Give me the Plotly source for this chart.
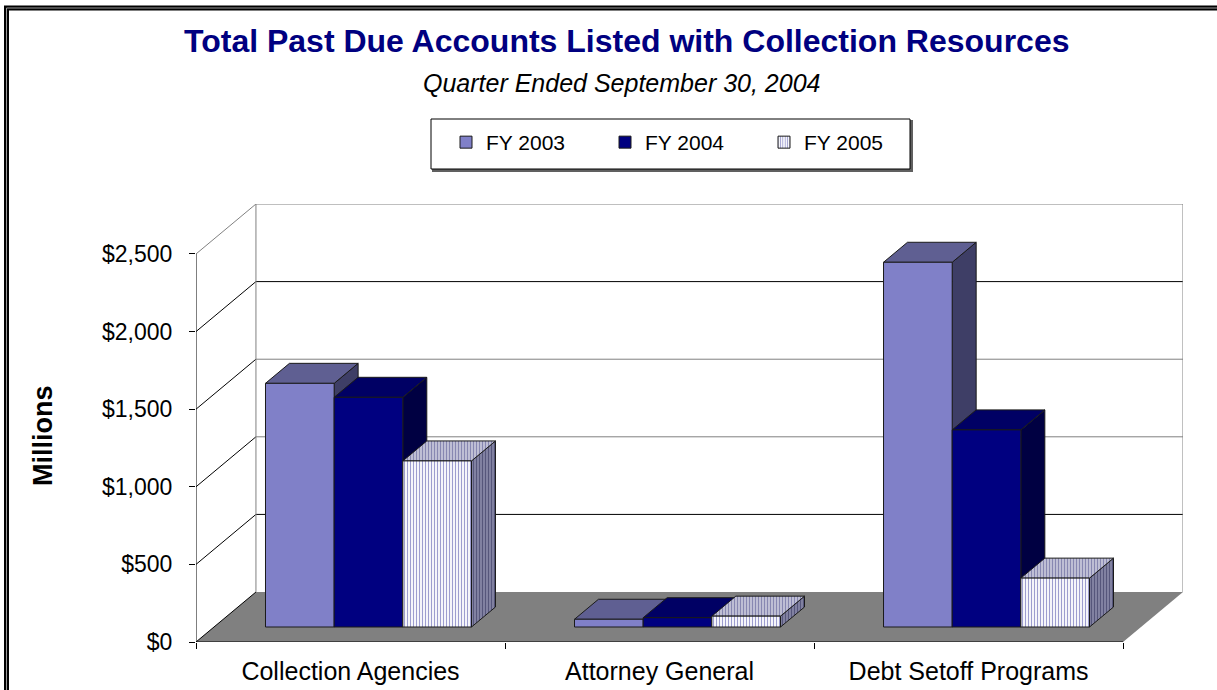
import plotly.graph_objects as go

# ---------------- data ----------------
categories = ["Collection Agencies", "Attorney General", "Debt Setoff Programs"]
series_names = ["FY 2003", "FY 2004", "FY 2005"]
fy2003 = [1570, 50, 2350]
fy2004 = [1480, 60, 1270]
fy2005 = [1070, 70, 315]
y_tickvals = [0, 500, 1000, 1500, 2000, 2500]
y_ticktext = ["$0", "$500", "$1,000", "$1,500", "$2,000", "$2,500"]

series_values = [fy2003, fy2004, fy2005]

# ---------------- geometry / style ----------------
DX, DY = 0.194, 322.0          # floor depth offset (x in category units, y in value units)
BAR_W = 1 / 4.5                # gap width 150%
D0, DB = 0.3, 0.4              # bar start depth and bar depth (fraction of floor depth)
FONT = "Liberation Sans, Arial, sans-serif"
EDGE = "#1a1a1a"

face_styles = {
    "FY 2003": dict(
        front=dict(fillcolor="#8080c8"),
        top=dict(fillcolor="#5f5f92"),
        side=dict(fillcolor="#3e3e66"),
    ),
    "FY 2004": dict(
        front=dict(fillcolor="#000080"),
        top=dict(fillcolor="#000064"),
        side=dict(fillcolor="#000042"),
    ),
    "FY 2005": dict(
        front=dict(fillcolor="#ffffff",
                   fillpattern=dict(shape="|", fgcolor="#3c3ca0", bgcolor="#ffffff", size=3, solidity=0.4)),
        top=dict(fillcolor="#c4c4d8",
                 fillpattern=dict(shape="|", fgcolor="#4a4a8a", bgcolor="#c4c4d8", size=3, solidity=0.4)),
        side=dict(fillcolor="#8a8aa8",
                  fillpattern=dict(shape="|", fgcolor="#22224e", bgcolor="#8a8aa8", size=3, solidity=0.45)),
    ),
}
legend_markers = {
    "FY 2003": dict(color="#8080c8", line=dict(color=EDGE, width=1)),
    "FY 2004": dict(color="#000080", line=dict(color=EDGE, width=1)),
    "FY 2005": dict(color="#ffffff", line=dict(color=EDGE, width=1),
                    pattern=dict(shape="|", fgcolor="#3c3ca0", bgcolor="#ffffff", size=3, solidity=0.4)),
}
back_grid_colors = {500: "black", 1000: "#808080", 1500: "#808080", 2000: "black", 2500: "#808080"}
side_grid_colors = {0: "black", 500: "black", 1000: "black", 1500: "black", 2000: "black", 2500: "#808080"}

fig = go.Figure()

# legend entries
for name in series_names:
    fig.add_trace(go.Bar(x=[None], y=[None], name=name, marker=legend_markers[name],
                         showlegend=True, hoverinfo="skip"))


def line(xs, ys, color, width=1):
    fig.add_trace(go.Scatter(x=xs, y=ys, mode="lines", line=dict(color=color, width=width),
                             hoverinfo="skip", showlegend=False))


ncat = len(categories)
ymax = y_tickvals[-1]

# floor
fig.add_trace(go.Scatter(x=[0, ncat, ncat + DX, DX, 0], y=[0, 0, DY, DY, 0], mode="lines",
                         fill="toself", fillcolor="#808080", line=dict(width=0),
                         hoverinfo="skip", showlegend=False))
line([0, ncat], [0, 0], "black")

# back wall gridlines and side wall diagonals
for v in y_tickvals:
    if v > 0:
        line([DX, ncat + DX], [v + DY, v + DY], back_grid_colors[v])
    line([0, DX], [v, v + DY], side_grid_colors[v])
line([DX, DX], [DY, ymax + DY], "#808080")
line([ncat + DX, ncat + DX], [DY, ymax + DY], "#808080")
line([0, 0], [0, ymax], "black")

# 3D bars
base = D0 * DY
dx, dy = DB * DX, DB * DY
for i in range(ncat):
    for j, name in enumerate(series_names):
        v = series_values[j][i]
        xl = i + 0.5 + D0 * DX - 1.5 * BAR_W + j * BAR_W
        xr = xl + BAR_W
        st = face_styles[name]
        faces = [
            ("side", [xr, xr + dx, xr + dx, xr, xr], [base, base + dy, base + v + dy, base + v, base]),
            ("top", [xl, xr, xr + dx, xl + dx, xl], [base + v, base + v, base + v + dy, base + v + dy, base + v]),
            ("front", [xl, xr, xr, xl, xl], [base, base, base + v, base + v, base]),
        ]
        for fname, xs, ys in faces:
            fig.add_trace(go.Scatter(x=xs, y=ys, mode="lines", fill="toself",
                                     line=dict(color=EDGE, width=1),
                                     hoverinfo="skip", showlegend=False, **st[fname]))

L, R, T, B = 196, 34, 204, 48
W, H = 1217, 690
PW, PH = W - L - R, H - T - B


def px(xp):
    return (xp - L) / PW


def py(yp):
    return (H - B - yp) / PH


# frame (double line)
fig.add_shape(type="rect", xref="paper", yref="paper", x0=px(6.5), y0=py(8), x1=px(1260), y1=py(760),
              line=dict(color="black", width=5), layer="above")
fig.add_shape(type="rect", xref="paper", yref="paper", x0=px(6.5), y0=py(8), x1=px(1260), y1=py(760),
              line=dict(color="#9a9a9a", width=1), layer="above")

# legend box with a slight shadow
fig.add_shape(type="rect", xref="paper", yref="paper", x0=px(433), y0=py(171), x1=px(912), y1=py(121),
              line=dict(color="#606060", width=2), fillcolor="#606060", layer="below")
fig.add_shape(type="rect", xref="paper", yref="paper", x0=px(431), y0=py(169), x1=px(910), y1=py(119),
              line=dict(color="black", width=1), fillcolor="white", layer="below")

fig.add_annotation(text="<b>Total Past Due Accounts Listed with Collection Resources</b>",
                   xref="paper", yref="paper", x=px(626), y=py(41), xanchor="center", yanchor="middle",
                   showarrow=False, font=dict(family=FONT, size=32, color="#000080"))
fig.add_annotation(text="<i>Quarter Ended September 30, 2004</i>",
                   xref="paper", yref="paper", x=px(622), y=py(83), xanchor="center", yanchor="middle",
                   showarrow=False, font=dict(family=FONT, size=25, color="black"))
fig.add_annotation(text="<b>Millions</b>", textangle=-90,
                   xref="paper", yref="paper", x=px(43), y=py(436), xanchor="center", yanchor="middle",
                   showarrow=False, font=dict(family=FONT, size=27, color="black"))

fig.update_layout(
    width=W, height=H,
    margin=dict(l=L, r=R, t=T, b=B, pad=0, autoexpand=False),
    paper_bgcolor="white", plot_bgcolor="white",
    font=dict(family=FONT, color="black"),
    showlegend=True,
    legend=dict(orientation="h", x=px(446), y=py(122), xanchor="left", yanchor="top",
                borderwidth=0, bgcolor="rgba(0,0,0,0)",
                font=dict(family=FONT, size=21, color="black"),
                entrywidth=114, entrywidthmode="pixels", itemwidth=30,
                traceorder="normal"),
    xaxis=dict(type="linear", range=[0, ncat + DX], showgrid=False, zeroline=False, showline=False,
               automargin=False,
               tickvals=[i + 0.5 for i in range(ncat)], ticktext=categories, ticks="",
               tickfont=dict(family=FONT, size=25, color="black"), ticklabelstandoff=12,
               minor=dict(tickvals=list(range(ncat + 1)), ticks="outside", ticklen=6,
                          tickcolor="black", tickwidth=1, showgrid=False),
               fixedrange=True),
    yaxis=dict(type="linear", range=[0, ymax + DY], showgrid=False, zeroline=False, showline=False,
               automargin=False,
               tickvals=y_tickvals, ticktext=y_ticktext, ticks="outside", ticklen=6,
               tickcolor="black", tickwidth=1, ticklabelstandoff=12,
               tickfont=dict(family=FONT, size=23, color="black"), fixedrange=True),
)

fig.write_html(
    "out.html",
    config={"displayModeBar": False},
    post_script="document.body.style.margin='0';document.body.style.overflow='hidden';",
)
